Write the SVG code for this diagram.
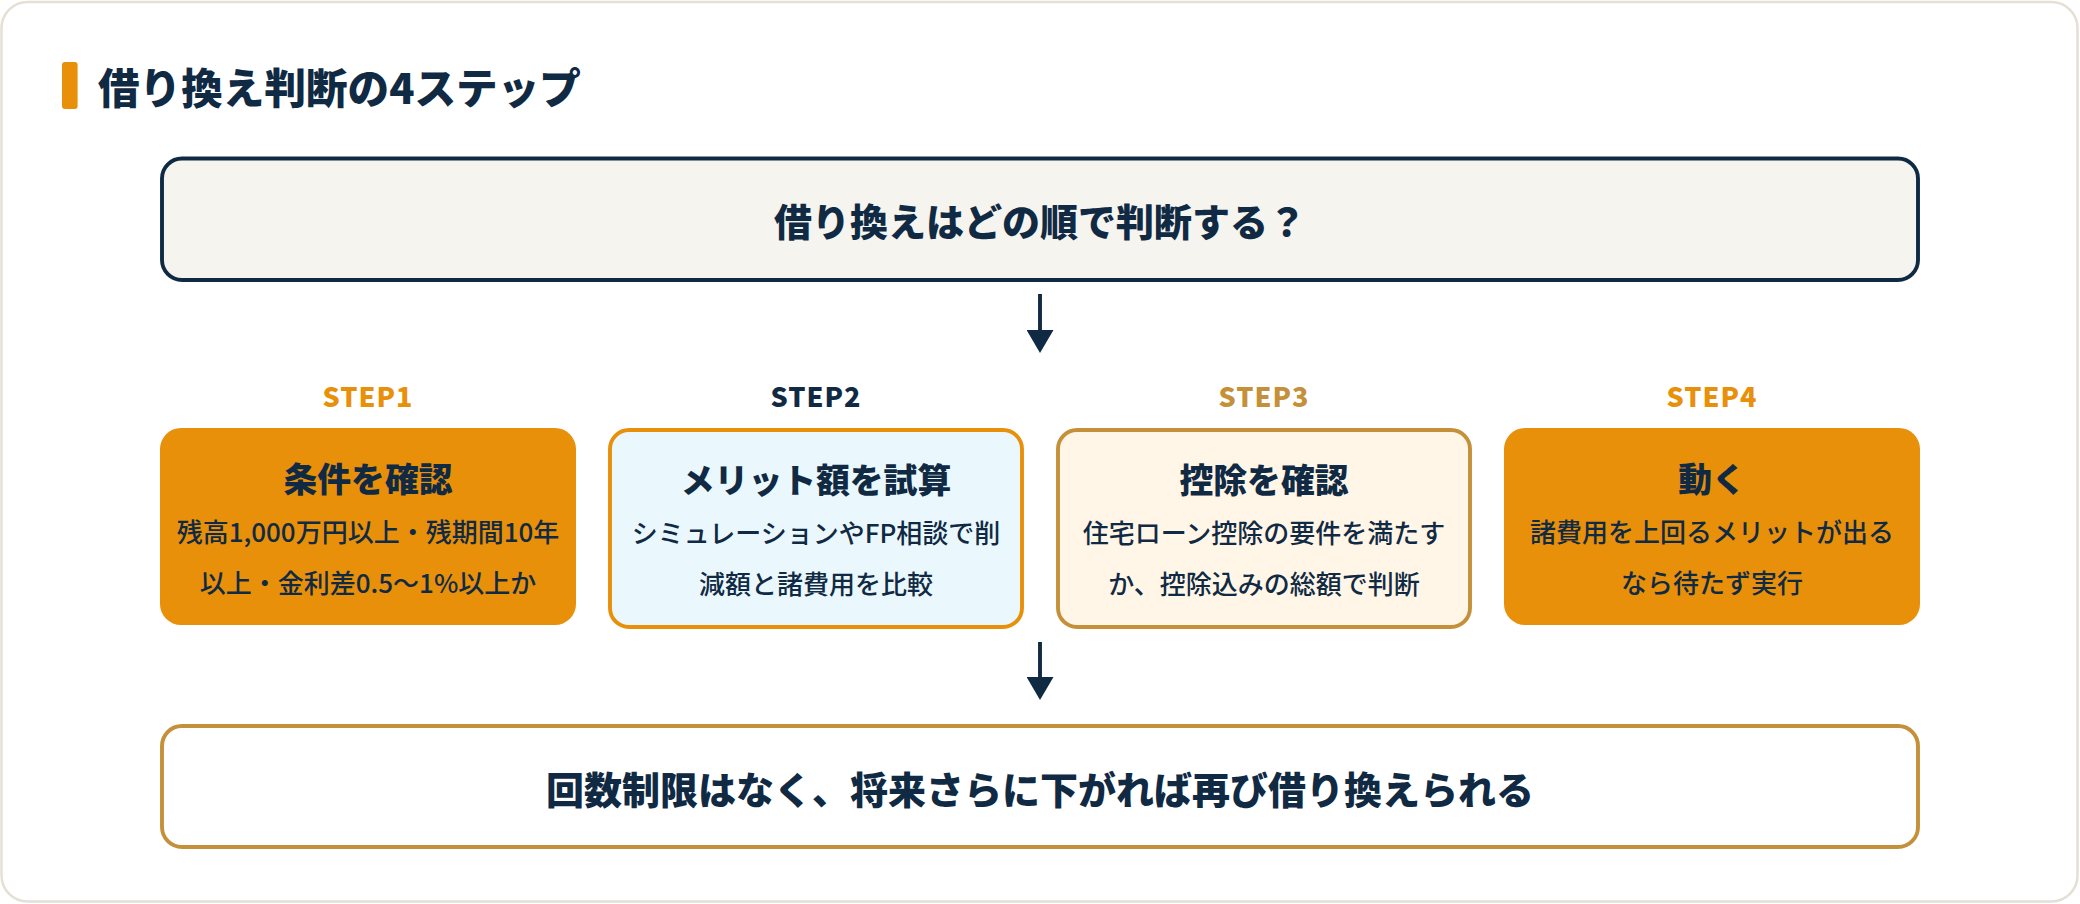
<svg xmlns="http://www.w3.org/2000/svg" width="2080" height="904" viewBox="0 0 2080 904">
  <defs>
    <marker id="ah" markerUnits="userSpaceOnUse" markerWidth="23" markerHeight="27" viewBox="0 0 23 27" refX="0" refY="13.5" orient="auto">
      <path d="M0,0 L23,13.5 L0,27 Z" fill="#112a44"/>
    </marker>
    <style>
      text { font-family: "Noto Sans CJK JP", "Noto Sans", sans-serif; fill: #112a44; }
      .title { font-size: 41.6px; font-weight: 800; }
      .big { font-size: 38px; font-weight: 800; text-anchor: middle; }
      .step { font-size: 27px; font-weight: 800; text-anchor: middle; letter-spacing: 1px; }
      .bt { font-size: 33.8px; font-weight: 800; text-anchor: middle; }
      .bd { font-size: 26px; font-weight: 500; text-anchor: middle; }
      .conn { stroke: #112a44; stroke-width: 3.9; fill: none; marker-end: url(#ah); }
      .orange { fill: #e8900a; }
    </style>
  </defs>
  <rect x="0" y="0" width="2080" height="904" fill="#ffffff"/>
  <rect x="1.5" y="2" width="2076" height="899.5" rx="26" fill="#ffffff" stroke="#e3e0d6" stroke-width="2.5"/>

  <g id="heading">
    <rect x="62" y="62" width="15.6" height="47" rx="3" class="orange"/>
    <text x="98" y="103.6" class="title">借り換え判断の4ステップ</text>
  </g>

  <g id="question">
    <rect x="162" y="158.5" width="1756" height="121.5" rx="20" fill="#f5f4ef" stroke="#112a44" stroke-width="3.9"/>
    <text x="1040" y="236" class="big">借り換えはどの順で判断する？</text>
  </g>

  <g id="connectors">
    <line x1="1040" y1="294" x2="1040" y2="330" class="conn"/>
    <line x1="1040" y1="642" x2="1040" y2="677" class="conn"/>
  </g>

  <g id="step1">
    <text x="368" y="406.5" class="step" style="fill:#e8900a">STEP1</text>
    <rect x="160" y="428" width="416" height="197" rx="21" class="orange"/>
    <text x="368" y="492.3" class="bt">条件を確認</text>
    <text x="368" y="542.4" class="bd">残高1,000万円以上・残期間10年</text>
    <text x="368" y="592.8" class="bd">以上・金利差0.5〜1%以上か</text>
  </g>

  <g id="step2">
    <text x="816" y="406.5" class="step" style="fill:#112a44">STEP2</text>
    <rect x="610" y="430" width="412" height="197" rx="19" fill="#eaf8fd" stroke="#e8900a" stroke-width="3.9"/>
    <text x="816" y="493.3" class="bt">メリット額を試算</text>
    <text x="816" y="543.4" class="bd">シミュレーションやFP相談で削</text>
    <text x="816" y="593.8" class="bd">減額と諸費用を比較</text>
  </g>

  <g id="step3">
    <text x="1264" y="406.5" class="step" style="fill:#c4913a">STEP3</text>
    <rect x="1058" y="430" width="412" height="197" rx="19" fill="#fff6e7" stroke="#c4913a" stroke-width="3.9"/>
    <text x="1264" y="493.3" class="bt">控除を確認</text>
    <text x="1264" y="543.4" class="bd">住宅ローン控除の要件を満たす</text>
    <text x="1264" y="593.8" class="bd">か、控除込みの総額で判断</text>
  </g>

  <g id="step4">
    <text x="1712" y="406.5" class="step" style="fill:#e8900a">STEP4</text>
    <rect x="1504" y="428" width="416" height="197" rx="21" class="orange"/>
    <text x="1712" y="492.3" class="bt">動く</text>
    <text x="1712" y="542.4" class="bd">諸費用を上回るメリットが出る</text>
    <text x="1712" y="592.8" class="bd">なら待たず実行</text>
  </g>

  <g id="conclusion">
    <rect x="162" y="726" width="1756" height="121" rx="20" fill="#ffffff" stroke="#c4913a" stroke-width="3.9"/>
    <text x="1040" y="804" class="big">回数制限はなく、将来さらに下がれば再び借り換えられる</text>
  </g>
</svg>
